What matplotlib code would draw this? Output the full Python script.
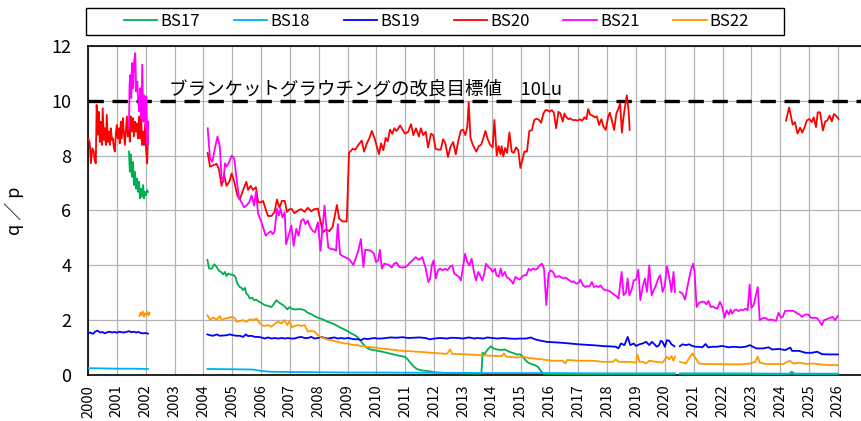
import numpy as np
import matplotlib.pyplot as plt
from matplotlib.patches import Rectangle

plt.rcParams['font.family'] = ['Noto Sans CJK JP', 'DejaVu Sans']

nan = np.nan

# BS17
bs17_t = [2001.42, 2001.45, 2001.49, 2001.52, 2001.56, 2001.59, 2001.63, 2001.66, 2001.70, 2001.73,
          2001.77, 2001.80, 2001.84, 2001.87, 2001.91, 2001.94, 2001.98, 2002.01, 2002.05, 2002.08, nan,
          2004.14, 2004.20, 2004.29, 2004.38, 2004.46, 2004.54, 2004.61, 2004.69, 2004.75, 2004.80,
          2004.86, 2004.94, 2005.03, 2005.11, 2005.18, 2005.26, 2005.32, 2005.38, 2005.44, 2005.49,
          2005.55, 2005.61, 2005.69, 2005.76, 2005.84, 2005.89, 2006.01, 2006.13, 2006.24, 2006.36,
          2006.44, 2006.53, 2006.59, 2006.67, 2006.76, 2006.84, 2006.91, 2006.99, 2007.05, 2007.16,
          2007.28, 2007.39, 2007.51, 2007.62, 2007.74, 2007.85, 2007.97, 2008.06, 2008.20, 2008.31,
          2008.43, 2008.54, 2008.66, 2008.77, 2008.89, 2009.00, 2009.12, 2009.25, 2009.35, 2009.45,
          2009.52, 2009.60, 2009.70, 2009.80, 2009.90, 2010.00, 2010.20, 2010.40, 2010.60, 2010.80,
          2011.00, 2011.10, 2011.20, 2011.30, 2011.40, 2011.55, 2011.75, 2012.00, 2012.50, 2013.00,
          2013.50, 2013.64, 2013.68, 2013.73, 2013.80, 2013.90, 2013.97, 2014.05, 2014.15, 2014.30,
          2014.45, 2014.60, 2014.75, 2014.90, 2014.97, 2015.06, 2015.14, 2015.26, 2015.37, 2015.49,
          2015.60, 2015.70, 2015.80, 2016.50, 2017.50, 2018.50, 2019.50, 2020.35, nan,
          2020.52, 2021.50, 2022.50, 2023.50, 2024.30, 2024.40, 2024.50, 2025.00, 2026.00]
bs17_v = [8.15, 7.41, 8.05, 7.23, 7.77, 6.93, 7.41, 6.80, 7.17, 6.68,
          7.05, 6.44, 6.80, 6.50, 6.93, 6.44, 6.68, 6.56, 6.74, 6.68, nan,
          4.20, 3.88, 3.88, 4.04, 3.94, 3.80, 3.76, 3.67, 3.76, 3.61,
          3.70, 3.66, 3.66, 3.58, 3.33, 3.21, 3.18, 3.09, 3.18, 2.97,
          2.91, 2.79, 2.82, 2.73, 2.75, 2.70, 2.63, 2.55, 2.52, 2.48,
          2.58, 2.73, 2.67, 2.61, 2.55, 2.48, 2.39, 2.48, 2.42, 2.39,
          2.40, 2.40, 2.36, 2.27, 2.22, 2.15, 2.09, 2.06, 2.00, 1.94,
          1.90, 1.85, 1.78, 1.72, 1.66, 1.60, 1.52, 1.45, 1.38, 1.25,
          1.15, 1.05, 0.97, 0.93, 0.91, 0.89, 0.85, 0.80, 0.75, 0.70,
          0.66, 0.55, 0.42, 0.30, 0.22, 0.17, 0.15, 0.10, 0.07, 0.06,
          0.05, 0.06, 0.82, 0.72, 0.85, 0.98, 1.05, 0.97, 0.94, 0.91,
          0.93, 0.85, 0.80, 0.74, 0.76, 0.69, 0.57, 0.45, 0.40, 0.36,
          0.30, 0.15, 0.04, 0.03, 0.03, 0.03, 0.03, 0.03, nan,
          0.03, 0.03, 0.03, 0.03, 0.03, 0.12, 0.03, 0.03, 0.03]

# BS18
bs18_t = [2000.00, 2000.50, 2001.00, 2001.50, 2002.08, nan,
          2004.14, 2005.00, 2005.70, 2006.00, 2006.30, 2007.00, 2008.00, 2009.00, 2010.00, 2012.00,
          2014.00, 2016.00, 2018.00, 2020.35, nan, 2020.52, 2022.00, 2024.00, 2026.00]
bs18_v = [0.25, 0.24, 0.23, 0.23, 0.22, nan,
          0.22, 0.21, 0.20, 0.15, 0.12, 0.11, 0.10, 0.09, 0.09, 0.08,
          0.07, 0.07, 0.06, 0.06, nan, 0.06, 0.06, 0.05, 0.05]

# BS19
bs19_t = [2000.00, 2000.08, 2000.17, 2000.25, 2000.33, 2000.42, 2000.50, 2000.58, 2000.67, 2000.75,
          2000.83, 2000.92, 2001.00, 2001.08, 2001.17, 2001.25, 2001.33, 2001.42, 2001.50, 2001.58,
          2001.67, 2001.75, 2001.83, 2001.92, 2002.00, 2002.08, nan,
          2004.14, 2004.23, 2004.34, 2004.46, 2004.57, 2004.69, 2004.80, 2004.92, 2005.03, 2005.15,
          2005.26, 2005.38, 2005.47, 2005.55, 2005.67, 2005.78, 2005.90, 2006.01, 2006.13, 2006.24,
          2006.36, 2006.47, 2006.59, 2006.70, 2006.82, 2006.93, 2007.05, 2007.16, 2007.28, 2007.39,
          2007.51, 2007.62, 2007.74, 2007.85, 2007.97, 2008.09, 2008.20, 2008.31, 2008.43, 2008.54,
          2008.66, 2008.77, 2008.89, 2009.00, 2009.12, 2009.23, 2009.35, 2009.46, 2009.57, 2009.69,
          2009.80, 2009.92, 2010.03, 2010.15, 2010.26, 2010.49, 2010.70, 2010.90, 2011.10, 2011.30,
          2011.50, 2011.70, 2011.86, 2012.00, 2012.20, 2012.45, 2012.60, 2012.80, 2013.00, 2013.20,
          2013.40, 2013.50, 2013.70, 2013.85, 2014.00, 2014.20, 2014.40, 2014.60, 2014.80, 2015.00,
          2015.20, 2015.35, 2015.50, 2015.70, 2015.90, 2016.20, 2016.50, 2016.80, 2017.00, 2017.30,
          2017.60, 2017.90, 2018.00, 2018.30, 2018.39, 2018.48, 2018.60, 2018.71, 2018.80, 2018.92,
          2019.00, 2019.12, 2019.23, 2019.35, 2019.46, 2019.55, 2019.64, 2019.72, 2019.80, 2019.86,
          2019.92, 2020.00, 2020.07, 2020.15, 2020.23, 2020.33, nan,
          2020.52, 2020.61, 2020.73, 2020.84, 2020.95, 2021.07, 2021.18, 2021.30, 2021.41, 2021.50,
          2021.64, 2021.80, 2022.00, 2022.20, 2022.40, 2022.60, 2022.80, 2022.95, 2023.05, 2023.17,
          2023.40, 2023.60, 2023.72, 2023.95, 2024.18, 2024.35, 2024.41, 2024.65, 2024.88, 2025.10,
          2025.28, 2025.45, 2025.70, 2026.00]
bs19_v = [1.52, 1.55, 1.50, 1.58, 1.62, 1.55, 1.57, 1.52, 1.56, 1.58,
          1.55, 1.57, 1.54, 1.58, 1.56, 1.55, 1.57, 1.60, 1.56, 1.58,
          1.55, 1.57, 1.53, 1.52, 1.53, 1.51, nan,
          1.48, 1.45, 1.43, 1.48, 1.43, 1.44, 1.45, 1.48, 1.45, 1.43,
          1.43, 1.39, 1.48, 1.42, 1.43, 1.39, 1.39, 1.37, 1.33, 1.37,
          1.33, 1.35, 1.33, 1.35, 1.33, 1.35, 1.33, 1.33, 1.37, 1.39,
          1.35, 1.35, 1.39, 1.33, 1.35, 1.39, 1.35, 1.33, 1.35, 1.37,
          1.33, 1.35, 1.33, 1.35, 1.33, 1.30, 1.31, 1.27, 1.33, 1.31,
          1.33, 1.35, 1.33, 1.33, 1.34, 1.37, 1.36, 1.38, 1.35, 1.36,
          1.37, 1.35, 1.30, 1.33, 1.35, 1.33, 1.36, 1.35, 1.33, 1.37,
          1.33, 1.35, 1.33, 1.37, 1.35, 1.33, 1.35, 1.33, 1.32, 1.33,
          1.33, 1.37, 1.30, 1.25, 1.21, 1.19, 1.17, 1.14, 1.12, 1.10,
          1.08, 1.05, 1.05, 1.03, 0.97, 1.15, 1.09, 1.39, 1.09, 1.15,
          1.06, 1.12, 1.15, 1.21, 1.09, 1.21, 1.12, 1.03, 1.09, 1.25,
          1.21, 1.03, 1.27, 1.25, 1.12, 1.05, nan,
          1.05, 1.12, 1.09, 1.12, 1.06, 1.03, 1.03, 1.01, 1.13, 1.01,
          1.03, 1.03, 1.06, 1.01, 1.03, 1.01, 1.03, 1.09, 1.03, 0.97,
          0.97, 1.01, 0.93, 0.95, 0.91, 1.00, 0.88, 0.88, 0.81, 0.81,
          0.85, 0.76, 0.75, 0.75]

# BS20
bs20_t = [2000.01, 2000.06, 2000.10, 2000.15, 2000.20, 2000.23, 2000.27, 2000.30, 2000.34, 2000.37,
          2000.41, 2000.44, 2000.48, 2000.51, 2000.55, 2000.58, 2000.62, 2000.65, 2000.69, 2000.72,
          2000.76, 2000.79, 2000.83, 2000.86, 2000.90, 2000.93, 2000.97, 2001.00, 2001.03, 2001.07,
          2001.10, 2001.14, 2001.17, 2001.21, 2001.24, 2001.28, 2001.31, 2001.35, 2001.38, 2001.42,
          2001.45, 2001.49, 2001.52, 2001.56, 2001.59, 2001.63, 2001.66, 2001.70, 2001.73, 2001.77,
          2001.80, 2001.84, 2001.87, 2001.91, 2001.94, 2001.98, 2002.01, 2002.05, 2002.08, nan,
          2004.15, 2004.23, 2004.34, 2004.46, 2004.54, 2004.63, 2004.72, 2004.80, 2004.90, 2004.98,
          2005.07, 2005.18, 2005.26, 2005.38, 2005.49, 2005.55, 2005.64, 2005.72, 2005.82, 2005.90,
          2006.01, 2006.07, 2006.16, 2006.24, 2006.36, 2006.47, 2006.55, 2006.64, 2006.72, 2006.82,
          2006.90, 2006.99, 2007.07, 2007.16, 2007.28, 2007.39, 2007.51, 2007.62, 2007.74, 2007.85,
          2007.97, 2008.06, 2008.14, 2008.25, 2008.37, 2008.48, 2008.63, 2008.71, 2008.83, 2008.97,
          2009.05, 2009.09, 2009.18, 2009.26, 2009.38, 2009.49, 2009.57, 2009.67, 2009.76, 2009.84,
          2009.93, 2010.01, 2010.09, 2010.16, 2010.24, 2010.32, 2010.39, 2010.47, 2010.55, 2010.62,
          2010.70, 2010.82, 2010.91, 2010.99, 2011.10, 2011.20, 2011.28, 2011.37, 2011.47, 2011.54,
          2011.62, 2011.71, 2011.79, 2011.89, 2011.97, 2012.05, 2012.14, 2012.23, 2012.31, 2012.39,
          2012.48, 2012.56, 2012.66, 2012.75, 2012.83, 2012.92, 2013.00, 2013.08, 2013.15, 2013.20,
          2013.26, 2013.34, 2013.46, 2013.55, 2013.63, 2013.71, 2013.78, 2013.86, 2013.94, 2014.03,
          2014.09, 2014.17, 2014.24, 2014.30, 2014.34, 2014.40, 2014.46, 2014.53, 2014.61, 2014.69,
          2014.76, 2014.84, 2014.92, 2014.99, 2015.07, 2015.13, 2015.22, 2015.30, 2015.39, 2015.47,
          2015.55, 2015.64, 2015.71, 2015.79, 2015.86, 2015.93, 2016.00, 2016.08, 2016.15, 2016.23,
          2016.31, 2016.38, 2016.46, 2016.52, 2016.57, 2016.66, 2016.72, 2016.80, 2016.90, 2016.98,
          2017.06, 2017.13, 2017.21, 2017.28, 2017.34, 2017.41, 2017.49, 2017.57, 2017.64, 2017.72,
          2017.80, 2017.87, 2017.95, 2018.03, 2018.09, 2018.16, 2018.24, 2018.32, 2018.39, 2018.45,
          2018.51, 2018.56, 2018.62, 2018.68, 2018.74, 2018.78, nan,
          2024.20, 2024.31, 2024.43, 2024.51, 2024.60, 2024.69, 2024.76, 2024.84, 2024.92, 2025.01,
          2025.09, 2025.16, 2025.24, 2025.30, 2025.38, 2025.48, 2025.56, 2025.63, 2025.71, 2025.79,
          2025.86, 2025.94, 2026.02]
bs20_v = [8.63, 8.45, 7.72, 8.27, 8.15, 7.84, 7.72, 9.85, 8.76, 9.60,
          8.50, 9.24, 8.39, 9.73, 8.57, 9.00, 8.39, 9.49, 8.50, 8.88,
          8.39, 9.00, 8.57, 8.63, 8.27, 8.15, 8.88, 9.12, 8.63, 9.00,
          8.45, 9.24, 8.63, 9.37, 8.88, 8.39, 8.88, 9.43, 8.70, 9.12,
          8.51, 9.43, 8.88, 9.37, 8.70, 9.24, 8.88, 9.18, 8.63, 9.43,
          8.63, 9.61, 8.39, 8.88, 8.39, 9.12, 8.27, 7.72, 8.70, nan,
          8.10, 7.60, 7.65, 7.70, 7.50, 6.90, 7.30, 6.90, 7.05, 7.35,
          7.05, 6.55, 6.40, 6.75, 7.05, 6.75, 6.90, 6.75, 6.85, 6.30,
          6.30, 6.35, 6.05, 5.80, 5.80, 5.95, 6.40, 6.10, 6.35, 6.35,
          5.95, 6.05, 6.05, 5.90, 6.00, 6.05, 5.95, 6.10, 5.97, 6.05,
          6.07, 5.60, 5.20, 5.30, 5.25, 5.40, 6.20, 5.70, 5.60, 5.60,
          8.10, 8.15, 8.25, 8.22, 8.40, 8.55, 8.15, 8.45, 8.65, 8.90,
          8.65, 8.35, 8.05, 8.45, 8.20, 8.65, 8.52, 8.95, 8.80, 9.00,
          8.90, 9.10, 8.95, 8.80, 8.87, 9.15, 8.75, 9.00, 8.70, 9.00,
          8.75, 8.87, 8.30, 8.80, 8.75, 8.25, 8.22, 8.22, 8.60, 8.45,
          7.95, 8.30, 8.50, 8.05, 8.50, 8.90, 8.95, 8.75, 9.05, 9.95,
          8.65, 8.40, 8.15, 8.35, 8.40, 8.65, 8.90, 8.60, 8.40, 8.30,
          9.30, 8.00, 8.35, 8.05, 8.35, 7.97, 8.28, 8.10, 8.85, 8.15,
          8.10, 8.30, 8.20, 7.55, 7.90, 8.15, 8.15, 8.90, 8.93, 9.30,
          9.35, 9.30, 9.20, 9.54, 9.66, 9.66, 9.60, 9.66, 9.57, 9.00,
          9.60, 9.54, 9.24, 9.54, 9.42, 9.33, 9.36, 9.30, 9.30, 9.28,
          9.33, 9.27, 9.40, 9.33, 9.70, 9.50, 9.46, 9.40, 9.43, 9.12,
          9.33, 9.06, 8.94, 9.40, 9.57, 9.30, 8.94, 9.54, 9.72, 9.90,
          8.84, 9.36, 9.80, 10.20, 9.66, 8.94, nan,
          9.28, 9.76, 9.13, 9.22, 8.81, 9.02, 8.84, 9.02, 9.28, 9.34,
          9.22, 9.40, 9.04, 9.58, 9.58, 8.92, 9.25, 9.28, 9.46, 9.25,
          9.52, 9.45, 9.34]

# BS21
bs21_t = [2001.42, 2001.44, 2001.47, 2001.50, 2001.53, 2001.57, 2001.60, 2001.64, 2001.67, 2001.71,
          2001.74, 2001.78, 2001.81, 2001.85, 2001.88, 2001.92, 2001.95, 2001.99, 2002.02, 2002.06,
          2002.09, nan,
          2004.15, 2004.23, 2004.31, 2004.40, 2004.49, 2004.57, 2004.63, 2004.69, 2004.75, 2004.80,
          2004.90, 2004.98, 2005.07, 2005.15, 2005.23, 2005.32, 2005.41, 2005.49, 2005.59, 2005.67,
          2005.76, 2005.82, 2005.90, 2005.99, 2006.07, 2006.16, 2006.24, 2006.33, 2006.41, 2006.47,
          2006.55, 2006.62, 2006.68, 2006.74, 2006.82, 2006.87, 2006.97, 2007.05, 2007.13, 2007.22,
          2007.30, 2007.39, 2007.47, 2007.54, 2007.62, 2007.70, 2007.79, 2007.87, 2007.97, 2008.06,
          2008.14, 2008.20, 2008.28, 2008.33, 2008.43, 2008.52, 2008.60, 2008.66, 2008.74, 2008.83,
          2008.94, 2009.06, 2009.20, 2009.29, 2009.37, 2009.46, 2009.55, 2009.61, 2009.73, 2009.81,
          2009.92, 2009.98, 2010.06, 2010.12, 2010.19, 2010.27, 2010.36, 2010.44, 2010.53, 2010.61,
          2010.70, 2010.79, 2010.90, 2011.02, 2011.13, 2011.25, 2011.36, 2011.48, 2011.59, 2011.71,
          2011.80, 2011.86, 2011.92, 2011.98, 2012.06, 2012.13, 2012.21, 2012.29, 2012.38, 2012.46,
          2012.55, 2012.63, 2012.70, 2012.78, 2012.86, 2012.93, 2013.01, 2013.07, 2013.15, 2013.22,
          2013.30, 2013.38, 2013.45, 2013.53, 2013.59, 2013.67, 2013.74, 2013.80, 2013.88, 2013.96,
          2014.03, 2014.11, 2014.16, 2014.24, 2014.31, 2014.37, 2014.45, 2014.51, 2014.59, 2014.66,
          2014.74, 2014.82, 2014.89, 2014.97, 2015.05, 2015.12, 2015.20, 2015.28, 2015.35, 2015.43,
          2015.51, 2015.58, 2015.66, 2015.74, 2015.81, 2015.89, 2015.97, 2016.04, 2016.12, 2016.20,
          2016.27, 2016.33, 2016.38, 2016.46, 2016.55, 2016.61, 2016.69, 2016.78, 2016.84, 2016.93,
          2017.01, 2017.07, 2017.16, 2017.24, 2017.30, 2017.39, 2017.47, 2017.54, 2017.62, 2017.70,
          2017.77, 2017.85, 2017.93, 2018.00, 2018.08, 2018.16, 2018.23, 2018.31, 2018.39, 2018.42,
          2018.50, 2018.57, 2018.65, 2018.71, 2018.77, 2018.85, 2018.92, 2019.00, 2019.08, 2019.15,
          2019.23, 2019.31, 2019.38, 2019.46, 2019.54, 2019.61, 2019.69, 2019.77, 2019.84, 2019.92,
          2020.00, 2020.07, 2020.15, 2020.23, 2020.30, 2020.35, nan,
          2020.52, 2020.61, 2020.70, 2020.78, 2020.90, 2020.98, 2021.03, 2021.10, 2021.18, 2021.26,
          2021.36, 2021.44, 2021.51, 2021.59, 2021.67, 2021.74, 2021.82, 2021.91, 2021.99, 2022.07,
          2022.14, 2022.22, 2022.28, 2022.33, 2022.41, 2022.48, 2022.56, 2022.64, 2022.71, 2022.79,
          2022.87, 2022.94, 2023.00, 2023.08, 2023.13, 2023.22, 2023.29, 2023.37, 2023.45, 2023.52,
          2023.60, 2023.68, 2023.77, 2023.86, 2023.94, 2024.03, 2024.09, 2024.17, 2024.26, 2024.35,
          2024.44, 2024.52, 2024.60, 2024.67, 2024.75, 2024.83, 2024.90, 2024.98, 2025.06, 2025.13,
          2025.21, 2025.29, 2025.36, 2025.44, 2025.52, 2025.59, 2025.67, 2025.75, 2025.82, 2025.90,
          2025.99]
bs21_v = [9.00, 10.60, 10.95, 10.10, 11.38, 10.46, 11.44, 11.74, 10.34, 10.70,
          9.98, 9.61, 10.46, 9.37, 11.32, 9.24, 10.20, 9.00, 10.16, 8.39,
          9.24, nan,
          9.00, 7.90, 7.78, 8.27, 8.70, 8.33, 7.23, 7.04, 7.72, 7.60,
          7.78, 8.00, 7.90, 7.17, 6.50, 6.30, 6.12, 6.18, 6.30, 6.55,
          6.18, 6.67, 5.88, 5.63, 5.39, 5.08, 5.17, 5.24, 5.14, 5.24,
          6.06, 5.82, 6.06, 5.75, 5.94, 4.77, 5.14, 5.45, 4.71, 5.33,
          5.08, 5.63, 5.69, 5.50, 5.63, 5.39, 5.26, 5.20, 5.57, 4.53,
          5.45, 6.18, 5.20, 4.65, 4.59, 4.59, 4.53, 5.50, 4.40, 4.34,
          4.28, 4.22, 4.01, 4.28, 4.53, 4.96, 3.94, 4.57, 4.55, 4.53,
          4.42, 4.12, 4.18, 4.57, 3.88, 4.06, 4.04, 4.00, 3.92, 4.06,
          4.10, 3.94, 3.92, 3.94, 4.06, 4.18, 4.30, 4.20, 4.30, 3.88,
          3.39, 3.52, 4.00, 4.18, 3.52, 3.82, 3.88, 3.82, 3.88, 3.82,
          3.94, 4.00, 3.70, 3.64, 3.58, 3.45, 4.00, 4.42, 4.12, 4.00,
          4.24, 3.76, 3.45, 3.76, 3.64, 3.45, 3.70, 4.06, 3.94, 3.88,
          3.76, 3.88, 3.64, 3.58, 3.88, 3.61, 3.76, 3.58, 3.52, 3.45,
          3.33, 3.58, 3.52, 3.48, 3.58, 3.64, 3.64, 3.88, 3.82, 3.88,
          3.84, 3.88, 4.00, 4.06, 3.88, 2.55, 3.70, 3.82, 3.76, 3.58,
          3.58, 3.61, 3.58, 3.52, 3.55, 3.52, 3.45, 3.39, 3.42, 3.33,
          3.36, 3.48, 3.27, 3.21, 3.24, 3.24, 3.39, 3.21, 3.24, 3.21,
          3.27, 3.15, 3.09, 3.09, 3.06, 3.00, 2.94, 2.88, 2.79, 3.03,
          3.76, 2.91, 3.00, 3.52, 2.91, 3.12, 3.45, 3.48, 3.84, 2.73,
          3.21, 3.52, 3.03, 4.00, 2.91, 3.09, 3.27, 3.52, 3.64, 3.03,
          3.27, 3.96, 3.58, 3.03, 3.76, 3.03, nan,
          3.03, 2.97, 2.75, 3.21, 3.82, 4.06, 3.76, 2.48, 2.62, 2.67,
          2.67, 2.58, 2.70, 2.48, 2.50, 2.45, 2.42, 2.67, 2.48, 2.09,
          2.36, 2.21, 2.39, 2.24, 2.36, 2.39, 2.33, 2.39, 2.36, 2.42,
          2.36, 3.30, 2.45, 2.55, 2.79, 3.21, 2.00, 2.06, 2.09, 2.06,
          2.00, 2.03, 2.00, 1.98, 2.27, 2.09, 2.12, 2.34, 2.34, 2.34,
          2.34, 2.30, 2.24, 2.21, 2.12, 2.18, 2.21, 2.20, 2.09, 2.08,
          2.09, 2.06, 1.96, 1.82, 2.00, 2.03, 2.06, 2.09, 2.12, 2.00,
          2.15]

# BS22
bs22_t = [2001.78, 2001.82, 2001.86, 2001.90, 2001.94, 2001.98, 2002.02, 2002.06, 2002.10, 2002.14, nan,
          2004.14, 2004.23, 2004.34, 2004.46, 2004.57, 2004.63, 2004.75, 2004.86, 2004.98, 2005.09,
          2005.15, 2005.26, 2005.38, 2005.49, 2005.61, 2005.72, 2005.84, 2005.92, 2006.01, 2006.13,
          2006.24, 2006.36, 2006.47, 2006.59, 2006.70, 2006.82, 2006.91, 2006.99, 2007.07, 2007.16,
          2007.28, 2007.39, 2007.51, 2007.62, 2007.74, 2007.85, 2007.97, 2008.09, 2008.20, 2008.31,
          2008.43, 2008.54, 2008.66, 2008.77, 2008.89, 2009.00, 2009.12, 2009.23, 2009.35, 2009.46,
          2009.57, 2009.69, 2009.80, 2009.92, 2010.15, 2010.50, 2010.80, 2011.10, 2011.40, 2011.70,
          2011.90, 2012.20, 2012.45, 2012.55, 2012.63, 2013.00, 2013.50, 2014.00, 2014.35, 2014.42,
          2014.50, 2014.85, 2015.10, 2015.30, 2015.65, 2015.88, 2016.10, 2016.46, 2016.55, 2016.62,
          2017.00, 2017.50, 2017.85, 2018.20, 2018.30, 2018.40, 2018.80, 2019.00, 2019.05, 2019.12,
          2019.23, 2019.35, 2019.46, 2019.70, 2019.92, 2020.07, 2020.15, 2020.23, 2020.30, 2020.35, nan,
          2020.52, 2020.73, 2020.84, 2020.95, 2021.07, 2021.18, 2021.40, 2021.75, 2022.20, 2022.65,
          2022.95, 2023.13, 2023.22, 2023.29, 2023.50, 2023.85, 2024.10, 2024.33, 2024.45, 2024.68,
          2024.90, 2025.13, 2025.36, 2025.70, 2026.00]
bs22_v = [2.15, 2.28, 2.18, 2.32, 2.12, 2.25, 2.20, 2.30, 2.17, 2.27, nan,
          2.18, 2.02, 2.09, 2.02, 2.15, 2.00, 2.06, 2.08, 2.12, 2.08,
          1.94, 1.97, 2.00, 1.94, 2.03, 2.00, 2.06, 1.94, 1.82, 1.79,
          1.82, 1.76, 1.86, 1.94, 1.88, 2.00, 1.82, 1.97, 1.73, 1.79,
          1.82, 1.79, 1.82, 1.58, 1.61, 1.58, 1.46, 1.37, 1.33, 1.29,
          1.27, 1.24, 1.21, 1.18, 1.15, 1.15, 1.11, 1.09, 1.09, 1.05,
          1.05, 1.02, 1.02, 1.00, 0.97, 0.93, 0.89, 0.87, 0.85, 0.83,
          0.81, 0.79, 0.77, 0.93, 0.77, 0.76, 0.73, 0.70, 0.69, 0.79,
          0.67, 0.64, 0.66, 0.62, 0.58, 0.55, 0.52, 0.52, 0.42, 0.55,
          0.52, 0.52, 0.48, 0.48, 0.57, 0.48, 0.48, 0.45, 0.75, 0.48,
          0.48, 0.42, 0.52, 0.48, 0.45, 0.67, 0.57, 0.69, 0.52, 0.67, nan,
          0.48, 0.42, 0.61, 0.79, 0.61, 0.42, 0.40, 0.40, 0.39, 0.39,
          0.42, 0.48, 0.67, 0.45, 0.40, 0.40, 0.40, 0.52, 0.42, 0.45,
          0.40, 0.42, 0.39, 0.36, 0.36]

series = ['BS17', 'BS18', 'BS19', 'BS20', 'BS21', 'BS22']
colors = ['#00B050', '#00B0F0', '#0000FF', '#FF0000', '#FF00FF', '#FF9900']
times = [bs17_t, bs18_t, bs19_t, bs20_t, bs21_t, bs22_t]
values = [bs17_v, bs18_v, bs19_v, bs20_v, bs21_v, bs22_v]

target = 10
target_label = 'ブランケットグラウチングの改良目標値\u300010Lu'
years = list(range(2000, 2027))

fig = plt.figure(figsize=(8.61, 4.21), dpi=100)
ax = fig.add_axes([88 / 861, 46 / 421, 773 / 861, 329 / 421])

lines = []
for name, c, t, v in zip(series, colors, times, values):
    ln, = ax.plot(t, v, color=c, lw=1.3, label=name, zorder=3)
    lines.append(ln)

ax.axhline(target, color='black', lw=2.4, dashes=(4.6, 2.6), zorder=2)
ax.text(2002.8, 10.08, target_label, fontsize=13.3, ha='left', va='bottom', zorder=4)

ax.set_xlim(2000, 2026.8)
ax.set_ylim(0, 12)
ax.set_xticks(years)
ax.set_xticklabels([str(y) for y in years], rotation=90, fontsize=10.5)
ax.set_yticks(range(0, 13, 2))
ax.tick_params(axis='y', labelsize=13, length=0, pad=12)
ax.tick_params(axis='x', length=0, pad=7)
ax.grid(True, color='#b4b4b4', lw=0.9, zorder=0)
ax.set_axisbelow(True)
for s in ['left', 'bottom', 'top']:
    ax.spines[s].set_color('black')
    ax.spines[s].set_linewidth(1.2)
ax.spines['right'].set_visible(False)

ax.set_ylabel('q \uff0f p', fontsize=13, labelpad=20)

# legend box across the top
fig.patches.append(Rectangle((86 / 861, 1 - 35 / 421), 698 / 861, 27 / 421,
                             transform=fig.transFigure, fill=False, ec='black', lw=1.0))
fig.legend(lines, series, ncol=6, loc='center left', frameon=False, fontsize=12,
           bbox_to_anchor=(124 / 861, 1 - 21.5 / 421), handlelength=2.0, handletextpad=0.2,
           columnspacing=2.02, borderaxespad=0, borderpad=0)

fig.savefig('out.png', dpi=100)
